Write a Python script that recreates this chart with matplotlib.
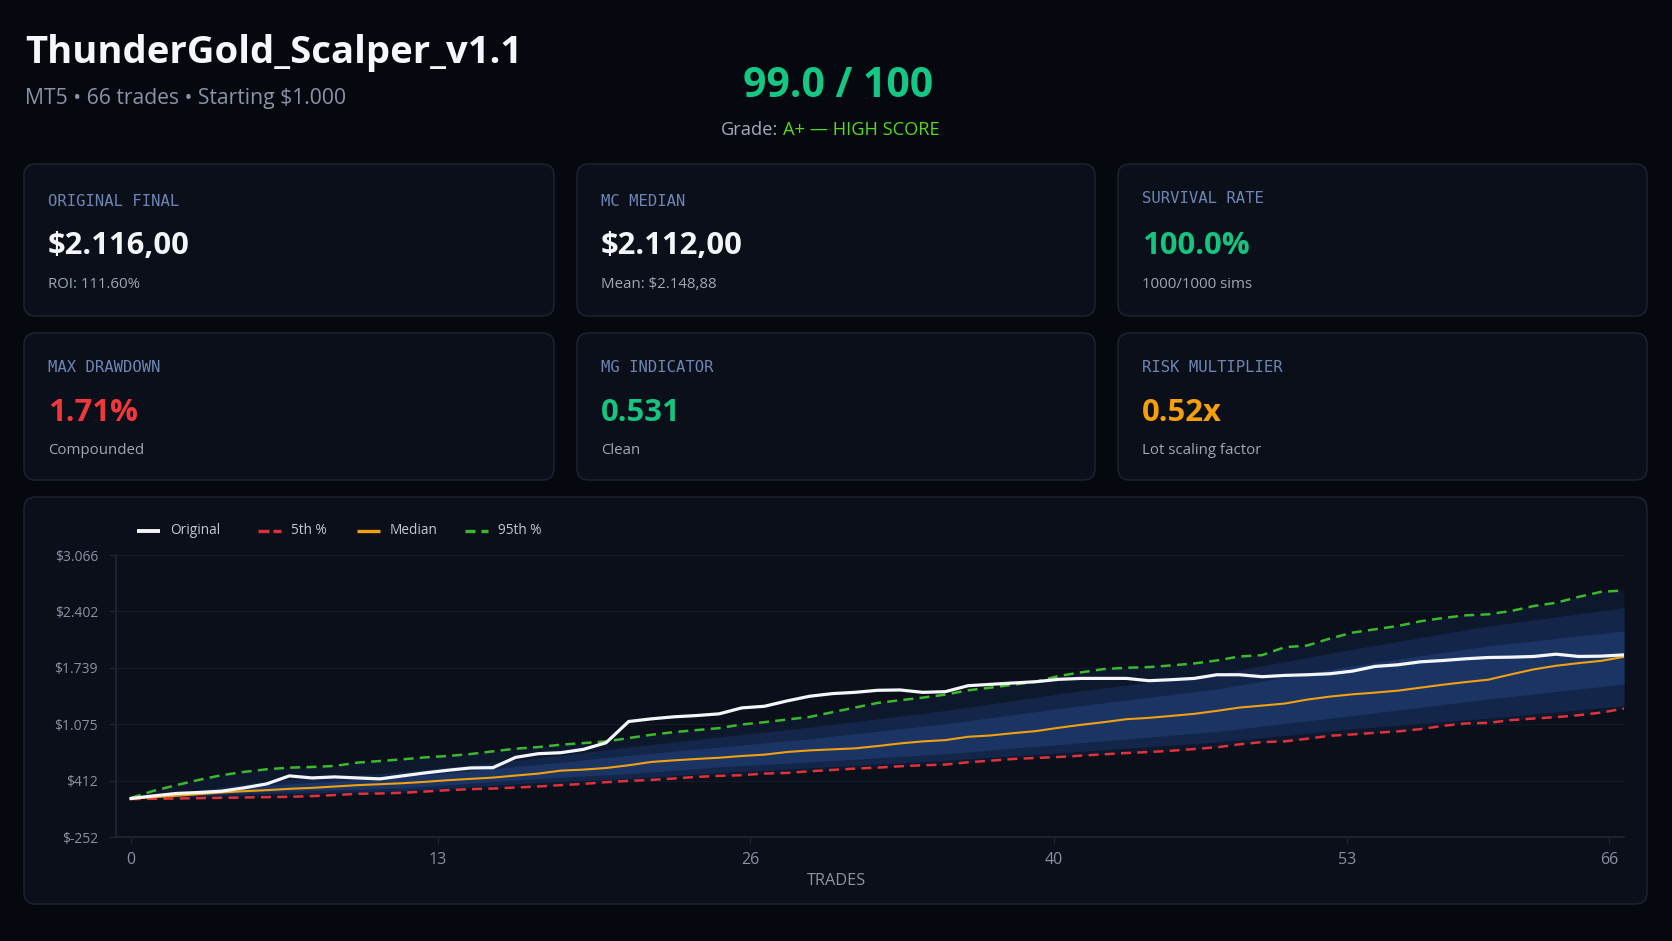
import matplotlib
matplotlib.use('Agg')
import matplotlib.pyplot as plt
from matplotlib.patches import FancyBboxPatch
import numpy as np

# --- data ---
trades = np.arange(67)
original = [201, 232, 260, 272, 287, 326, 373, 467, 443, 455,
            443, 432, 467, 502, 533, 560, 564, 685, 728, 740,
            779, 857, 1107, 1138, 1162, 1177, 1197, 1267, 1286, 1349,
            1404, 1435, 1450, 1474, 1478, 1450, 1458, 1528, 1544, 1560,
            1575, 1603, 1614, 1614, 1614, 1587, 1599, 1614, 1657, 1657,
            1634, 1649, 1657, 1669, 1700, 1755, 1774, 1809, 1825, 1845,
            1860, 1864, 1872, 1899, 1872, 1876, 1891]
p5 = [194, 198, 201, 205, 209, 213, 217, 221, 229, 241,
      256, 260, 268, 283, 299, 311, 318, 330, 342, 358,
      373, 393, 408, 420, 436, 455, 467, 475, 494, 502,
      521, 537, 553, 564, 580, 592, 600, 627, 646, 666,
      678, 689, 705, 721, 736, 748, 763, 783, 803, 838,
      865, 873, 904, 939, 955, 974, 990, 1017, 1056, 1084,
      1091, 1123, 1142, 1158, 1181, 1212, 1259]
median = [201, 217, 233, 252, 272, 287, 299, 315, 326, 342,
          358, 369, 381, 397, 416, 432, 447, 471, 494, 529,
          541, 560, 592, 631, 650, 666, 681, 701, 717, 748,
          767, 779, 791, 818, 849, 873, 888, 927, 943, 970,
          994, 1033, 1068, 1099, 1134, 1150, 1173, 1197, 1232, 1271,
          1294, 1318, 1365, 1400, 1427, 1447, 1470, 1505, 1540, 1571,
          1599, 1661, 1720, 1763, 1794, 1821, 1868]
p95 = [209, 291, 358, 420, 475, 514, 545, 564, 572, 584,
       623, 642, 662, 685, 701, 724, 756, 787, 806, 834,
       853, 873, 912, 951, 982, 1006, 1029, 1072, 1099, 1130,
       1161, 1216, 1271, 1325, 1357, 1388, 1423, 1474, 1505, 1540,
       1575, 1642, 1685, 1724, 1739, 1747, 1767, 1790, 1825, 1872,
       1888, 1981, 2001, 2083, 2153, 2192, 2231, 2286, 2325, 2356,
       2368, 2407, 2465, 2504, 2574, 2633, 2649]

# inner fan bands (sampled coarser)
band_x = [0, 6, 12, 18, 22, 26, 30, 36, 42, 48, 54, 60, 66]
p10 = [201, 256, 291, 389, 436, 506, 560, 650, 756, 865, 1021, 1146, 1294]
p25 = [201, 280, 326, 436, 494, 572, 631, 728, 857, 990, 1177, 1372, 1548]
p75 = [201, 357, 455, 600, 709, 806, 904, 1080, 1294, 1489, 1763, 1997, 2172]
p90 = [201, 404, 514, 678, 806, 924, 1041, 1236, 1470, 1665, 1958, 2231, 2446]

y_ticks = [-252, 412, 1075, 1739, 2402, 3066]
y_labels = ['$-252', '$412', '$1.075', '$1.739', '$2.402', '$3.066']
x_tick_pos = [0, 13.57, 27.37, 40.8, 53.76, 65.34]
x_labels = ['0', '13', '26', '40', '53', '66']

card_labels = ['ORIGINAL FINAL', 'MC MEDIAN', 'SURVIVAL RATE',
               'MAX DRAWDOWN', 'MG INDICATOR', 'RISK MULTIPLIER']
card_values = ['$2.116,00', '$2.112,00', '100.0%', '1.71%', '0.531', '0.52x']
card_subs = ['ROI: 111.60%', 'Mean: $2.148,88', '1000/1000 sims',
             'Compounded', 'Clean', 'Lot scaling factor']
card_colors = ['#f3f5f8', '#f3f5f8', '#14c47f', '#f0383c', '#14c47f', '#f5a00b']

# --- styling ---
SANS = 'Open Sans'
MONO = 'DejaVu Sans Mono'
BG = '#05080e'
CARD = '#0a0f1a'
EDGE = '#1a2230'

W, H = 1672, 941
fig = plt.figure(figsize=(W / 100, H / 100), dpi=100)
fig.patch.set_facecolor(BG)
bg = fig.add_axes([0, 0, 1, 1])
bg.set_xlim(0, W)
bg.set_ylim(H, 0)
bg.axis('off')
rend = fig.canvas.get_renderer()


def fit(s, width, weight='normal', family=SANS):
    t = bg.text(0, 0, s, fontsize=20, fontweight=weight, family=family)
    w = t.get_window_extent(rend).width
    t.remove()
    return 20.0 * width / w


def card(x0, y0, x1, y1):
    bg.add_patch(FancyBboxPatch((x0, y0), x1 - x0, y1 - y0,
                                boxstyle='round,pad=0,rounding_size=12',
                                fc=CARD, ec=EDGE, lw=1.2))


# header
bg.text(25, 63, 'ThunderGold_Scalper_v1.1', color='#f5f7fa', family=SANS,
        fontweight='bold', fontsize=fit('ThunderGold_Scalper_v1.1', 497, 'bold'))
bg.text(25, 104, 'MT5 \u2022 66 trades \u2022 Starting $1.000', color='#8b94a5',
        family=SANS, fontsize=fit('MT5 \u2022 66 trades \u2022 Starting $1.000', 321))
bg.text(743, 97, '99.0 / 100', color='#14c783', family=SANS, fontweight='bold',
        fontsize=fit('99.0 / 100', 190, 'bold'))
gs = fit('Grade:', 57)
bg.text(721, 135, 'Grade:', color='#a3acbb', family=SANS, fontsize=gs)
bg.text(783, 135, 'A+ \u2014 HIGH SCORE', color='#55d81f', family=SANS, fontsize=gs)

# stat cards
cols = [(24, 554), (577, 1095), (1118, 1647)]
rows = [(164, 316), (333, 480)]
lab_base = [[206, 206, 203], [372, 372, 372]]
val_base = [254, 421]
sub_base = [287.5, 454]
lab_fs = fit('ORIGINAL FINAL', 132, family=MONO)
val_fs = fit('$2.116,00', 142, 'bold')
sub_fs = fit('ROI: 111.60%', 92)
for r, (y0, y1) in enumerate(rows):
    for c, (x0, x1) in enumerate(cols):
        k = r * 3 + c
        card(x0, y0, x1, y1)
        tx = x0 + 24
        bg.text(tx, lab_base[r][c], card_labels[k], color='#6d86b5',
                family=MONO, fontsize=lab_fs)
        bg.text(tx, val_base[r], card_values[k], color=card_colors[k],
                family=SANS, fontweight='bold', fontsize=val_fs)
        bg.text(tx, sub_base[r], card_subs[k], color='#a0a8b6',
                family=SANS, fontsize=sub_fs)

# chart card
card(24, 497, 1647, 904)

# legend (drawn by hand)
leg_fs = fit('Original', 50)
leg = [('Original', '#f4f6fa', '-', 2.8, 137),
       ('5th %', '#e0323a', (0, (3.3, 1.2)), 2.4, 258),
       ('Median', '#f0a010', '-', 2.4, 357),
       ('95th %', '#3cb82e', (0, (3.0, 1.8)), 2.4, 465)]
for name, col, ls, lw, lx in leg:
    bg.plot([lx, lx + 23], [531, 531], color=col, ls=ls, lw=lw,
            solid_capstyle='butt', dash_capstyle='butt')
    bg.text(lx + 33, 531, name, color='#c3cad6', family=SANS,
            fontsize=leg_fs, va='center')

ax = fig.add_axes([116 / W, 1 - 837 / H, (1624 - 116) / W, (837 - 555) / H])
ax.set_facecolor('none')
ax.fill_between(trades, p5, p95, color='#0d182d', lw=0, zorder=1)
ax.fill_between(band_x, p10, p90, color='#13264a', lw=0, zorder=2)
ax.fill_between(band_x, p25, p75, color='#1a3563', lw=0, zorder=3)
ax.plot(trades, p5, color='#e0323a', lw=1.8, ls=(0, (4, 2.5)), zorder=4)
ax.plot(trades, p95, color='#3cb82e', lw=1.8, ls=(0, (4, 2.5)), zorder=4)
ax.plot(trades, median, color='#f0a010', lw=1.5, zorder=5)
ax.plot(trades, original, color='#f4f6fa', lw=2.3, zorder=6,
        solid_joinstyle='round')

ax.set_xlim(-0.663, 66)
ax.set_ylim(-252, 3066)
ax.set_yticks(y_ticks)
ax.set_yticklabels(y_labels)
ax.set_xticks(x_tick_pos)
ax.set_xticklabels(x_labels)
ax.grid(axis='y', color='#121a27', lw=1)
ax.set_axisbelow(True)
for s in ['top', 'right']:
    ax.spines[s].set_visible(False)
for s in ['left', 'bottom']:
    ax.spines[s].set_color('#1f2735')
    ax.spines[s].set_linewidth(1.2)
ax.tick_params(axis='y', colors='#1f2735', labelcolor='#8891a3',
               length=5, pad=8, labelsize=10)
ax.tick_params(axis='x', colors='#1f2735', labelcolor='#8891a3',
               length=4, pad=7, labelsize=11.5)
for t in ax.get_xticklabels() + ax.get_yticklabels():
    t.set_family(SANS)

bg.text(836, 881, 'TRADES', color='#8b95a7', family=SANS,
        fontsize=fit('TRADES', 59), ha='center', va='center')

fig.savefig('out.png', dpi=100, facecolor=BG)
